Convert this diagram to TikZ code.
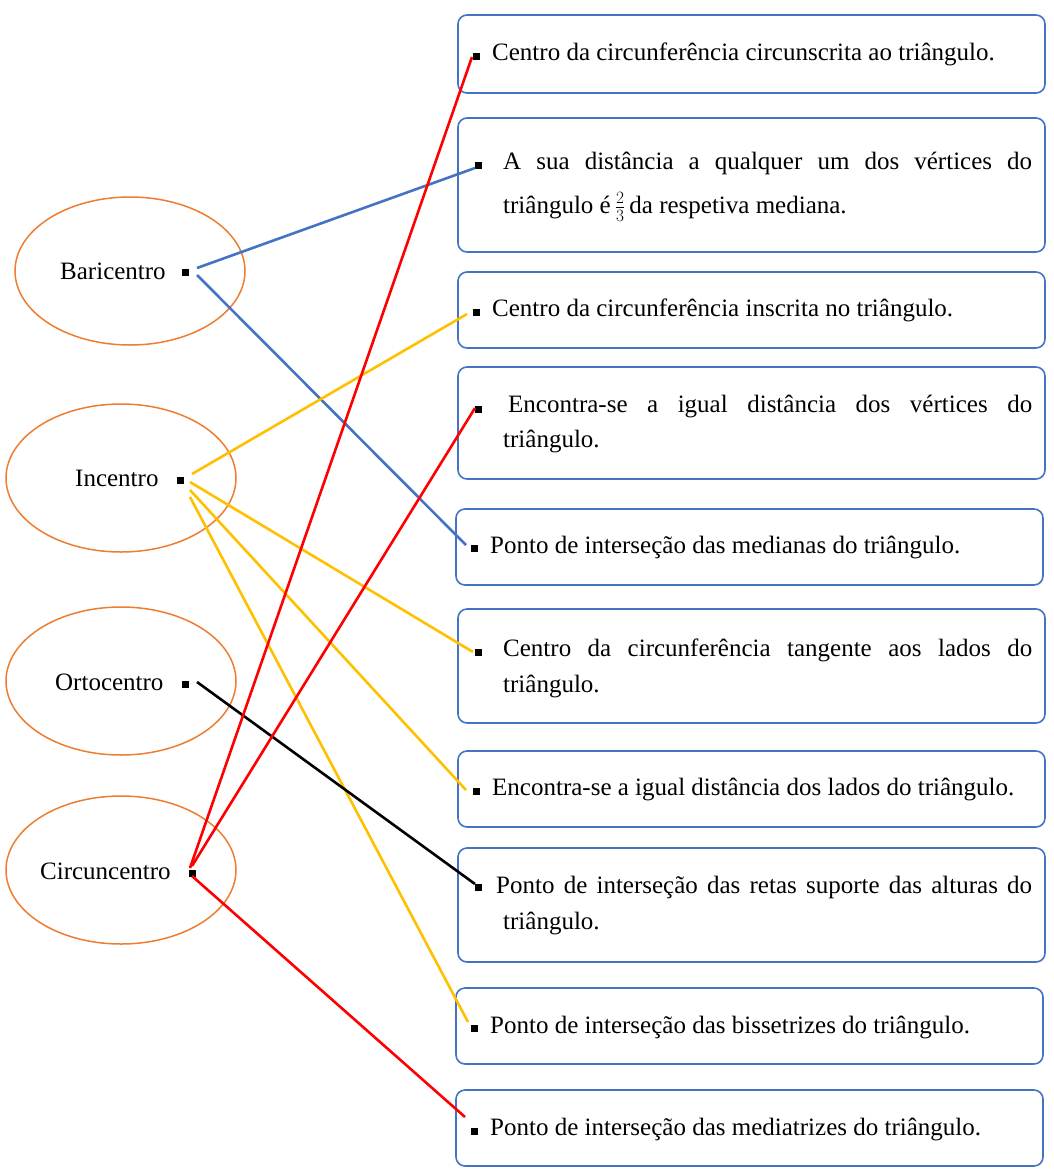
\documentclass[tikz,border=0pt]{standalone}
\usepackage{fontspec}
\setmainfont{Liberation Serif}
\begin{document}
\begin{tikzpicture}[x=1pt,y=-1pt,
  box/.style={draw=boxc, line width=1.6pt, rounded corners=9pt},
  ell/.style={draw=ellc, line width=1.5pt},
  sq/.style={fill=black, inner sep=0pt, minimum size=7pt},
  lab/.style={font=\fontsize{25}{30}\selectfont, anchor=west, inner sep=0pt},
  ln/.style={line width=2.6pt}]
\definecolor{boxc}{RGB}{68,114,196}
\definecolor{ellc}{RGB}{237,125,49}
\definecolor{yel}{RGB}{255,192,0}
\useasboundingbox (0,0) rectangle (1054,1171);
% ellipses
\draw[ell] (130,271) ellipse [x radius=115, y radius=74];
\draw[ell] (121,478) ellipse [x radius=115, y radius=74];
\draw[ell] (121,681) ellipse [x radius=115, y radius=74];
\draw[ell] (121,870) ellipse [x radius=115, y radius=74];
\node[lab] (lb) at (60,271) {Baricentro};
\node[lab] (li) at (75,478) {Incentro};
\node[lab] (lo) at (55,682) {Ortocentro};
\node[lab] (lc) at (40,871) {Circuncentro};
\node[sq] (sb) at (185,272) {};
\node[sq] (si) at (180,480) {};
\node[sq] (so) at (185,684) {};
\node[sq] (sc) at (192,873) {};
% boxes
\draw[box] (458,15) rectangle (1045,93);
\draw[box] (458,118) rectangle (1045,252);
\draw[box] (458,272) rectangle (1045,348);
\draw[box] (458,367) rectangle (1045,479);
\draw[box] (456,509) rectangle (1043,585);
\draw[box] (458,609) rectangle (1045,723);
\draw[box] (458,751) rectangle (1045,827);
\draw[box] (458,848) rectangle (1045,962);
\draw[box] (456,988) rectangle (1043,1064);
\draw[box] (456,1090) rectangle (1043,1166);
% bullets
\foreach \x/\y [count=\i] in {476/56,478/165,476/312,478/409,474/548,478/652,476/791,478/887,474/1028,474/1131}
  \node[sq] (b\i) at (\x,\y) {};
% texts
\node[lab] (t1) at (492,54) {Centro da circunferência circunscrita ao triângulo.};
\node[lab] (t2) at (503,163) {\makebox[529pt][s]{A sua distância a qualquer um dos vértices do}};
\node[lab] (t2b) at (503,207) {triângulo é\,$\frac{2}{3}$\,da respetiva mediana.};
\node[lab] (t3) at (492,310) {Centro da circunferência inscrita no triângulo.};
\node[lab] (t4) at (508,406) {\makebox[524pt][s]{Encontra-se a igual distância dos vértices do}};
\node[lab] (t4b) at (503,441) {triângulo.};
\node[lab] (t5) at (490,547) {Ponto de interseção das medianas do triângulo.};
\node[lab] (t6) at (503,650) {\makebox[529pt][s]{Centro da circunferência tangente aos lados do}};
\node[lab] (t6b) at (503,686) {triângulo.};
\node[lab] (t7) at (492,789) {Encontra-se a igual distância dos lados do triângulo.};
\node[lab] (t8) at (496,887) {\makebox[536pt][s]{Ponto de interseção das retas suporte das alturas do}};
\node[lab] (t8b) at (503,923) {triângulo.};
\node[lab] (t9) at (490,1027) {Ponto de interseção das bissetrizes do triângulo.};
\node[lab] (t10) at (490,1129) {Ponto de interseção das mediatrizes do triângulo.};
% connectors
\coordinate (e2) at (475,168); \coordinate (e5) at (466,545);
\coordinate (e3) at (467,314); \coordinate (e6) at (473,652);
\coordinate (e7) at (466,790); \coordinate (e9) at (468,1022);
\coordinate (e8) at (475,884); \coordinate (e1) at (472,57);
\coordinate (e4) at (475,408); \coordinate (e10) at (465,1117);
\draw[ln, boxc] (197,268) -- (e2);
\draw[ln, boxc] (197,275) -- (e5);
\draw[ln, yel] (192,474) -- (e3);
\draw[ln, yel] (190,482) -- (e6);
\draw[ln, yel] (190,490) -- (e7);
\draw[ln, yel] (190,497) -- (e9);
\draw[ln, black] (197,682) -- (e8);
\draw[ln, red] (190,868) -- (e1);
\draw[ln, red] (192,866) -- (e4);
\draw[ln, red] (192,876) -- (e10);
\end{tikzpicture}
\end{document}
